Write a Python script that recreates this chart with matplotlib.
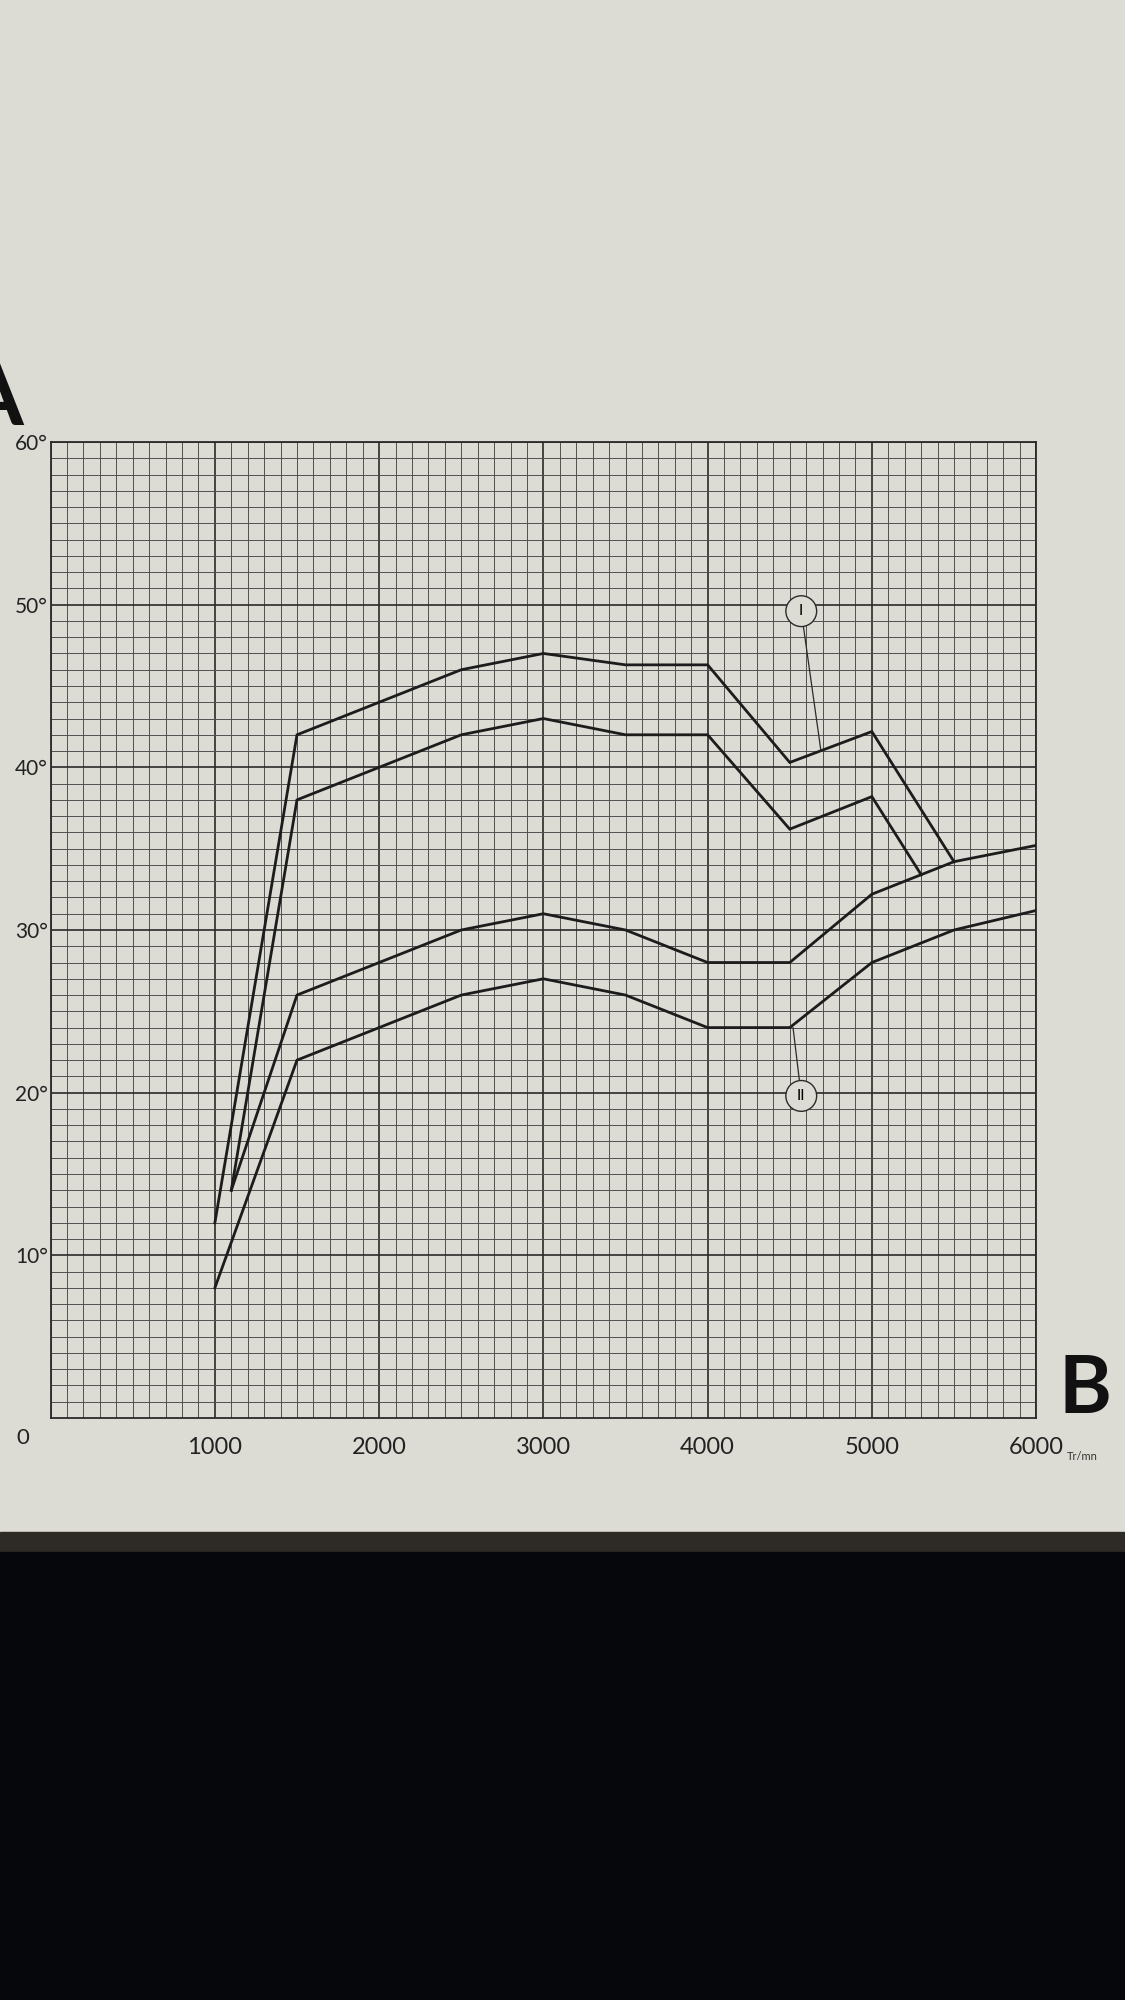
import matplotlib.pyplot as plt
from matplotlib.ticker import MultipleLocator
from matplotlib.patches import Rectangle

plt.rcParams['font.family'] = ['Lato', 'DejaVu Sans']

# curve I (two branches)
i_high_rpm = [1000, 1500, 2500, 3000, 3500, 4000, 4500, 5000, 5500]
i_high_deg = [12, 42, 46, 47, 46.3, 46.3, 40.3, 42.2, 34.2]
i_low_rpm = [1100, 1500, 2500, 3000, 3500, 4000, 4500, 5000, 5300]
i_low_deg = [14, 38, 42, 43, 42, 42, 36.2, 38.2, 33.4]

# curve II (two branches)
ii_high_rpm = [1100, 1500, 2500, 3000, 3500, 4000, 4500, 5000, 5500, 6000]
ii_high_deg = [14, 26, 30, 31, 30, 28, 28, 32.2, 34.2, 35.2]
ii_low_rpm = [1000, 1500, 2500, 3000, 3500, 4000, 4500, 5000, 5500, 6000]
ii_low_deg = [8, 22, 26, 27, 26, 24, 24, 28, 30, 31.2]

x_ticks = [1000, 2000, 3000, 4000, 5000, 6000]
y_ticks = [10, 20, 30, 40, 50, 60]
y_labels = ['10°', '20°', '30°', '40°', '50°', '60°']

paper = '#dcdcd5'
ink = '#1c1c1c'

fig = plt.figure(figsize=(11.25, 20), dpi=100, facecolor=paper)
ax = fig.add_axes([0.045, 0.291, 0.876, 0.488])
ax.set_facecolor(paper)

for rpm, deg in [(i_high_rpm, i_high_deg), (i_low_rpm, i_low_deg),
                 (ii_high_rpm, ii_high_deg), (ii_low_rpm, ii_low_deg)]:
    ax.plot(rpm, deg, color=ink, lw=2.0, solid_joinstyle='miter', zorder=3)

ax.set_xlim(0, 6000)
ax.set_ylim(0, 60)
ax.set_xticks(x_ticks)
ax.set_yticks(y_ticks)
ax.set_yticklabels(y_labels)
ax.xaxis.set_minor_locator(MultipleLocator(100))
ax.yaxis.set_minor_locator(MultipleLocator(1))
ax.grid(which='minor', color='#505050', lw=0.7)
ax.grid(which='major', color='#2a2a2a', lw=1.2)
ax.set_axisbelow(True)
ax.tick_params(which='both', length=0)
ax.tick_params(axis='x', pad=14, labelsize=17, labelcolor='#222222')
ax.tick_params(axis='y', pad=2, labelsize=15, labelcolor='#222222')
for sp in ax.spines.values():
    sp.set_color('#2a2a2a')
    sp.set_linewidth(1.3)

ax.text(-170, -1.2, '0', ha='center', va='center', fontsize=16,
        color='#222222', clip_on=False)
ax.text(1.031, -0.039, 'Tr/mn', transform=ax.transAxes, ha='left',
        va='center', fontsize=8, color='#333333')

circle = dict(boxstyle='circle,pad=0.55', fc=paper, ec='#2a2a2a', lw=1.0)
line = dict(arrowstyle='-', color='#2a2a2a', lw=0.9, shrinkA=0, shrinkB=0)
ax.annotate('I', xy=(4690, 41.0), xytext=(4570, 49.6), ha='center',
            va='center', fontsize=11, bbox=circle, arrowprops=line, zorder=4)
ax.annotate('II', xy=(4520, 24), xytext=(4570, 19.8), ha='center',
            va='center', fontsize=11, bbox=circle, arrowprops=line, zorder=4)

fig.text(0.021, 0.7875, 'A', ha='right', va='baseline', fontsize=62,
         fontweight='bold', color='#111111')
fig.text(0.941, 0.2935, 'B', ha='left', va='baseline', fontsize=58,
         fontweight='bold', color='#111111')

# page edge and dark background under the page
fig.patches.append(Rectangle((0, 0), 1, 0.234, transform=fig.transFigure,
                             color='#2e2b27', zorder=0))
fig.patches.append(Rectangle((0, 0), 1, 0.224, transform=fig.transFigure,
                             color='#06060d', zorder=0))

fig.savefig('out.png', dpi=100, facecolor=paper)
